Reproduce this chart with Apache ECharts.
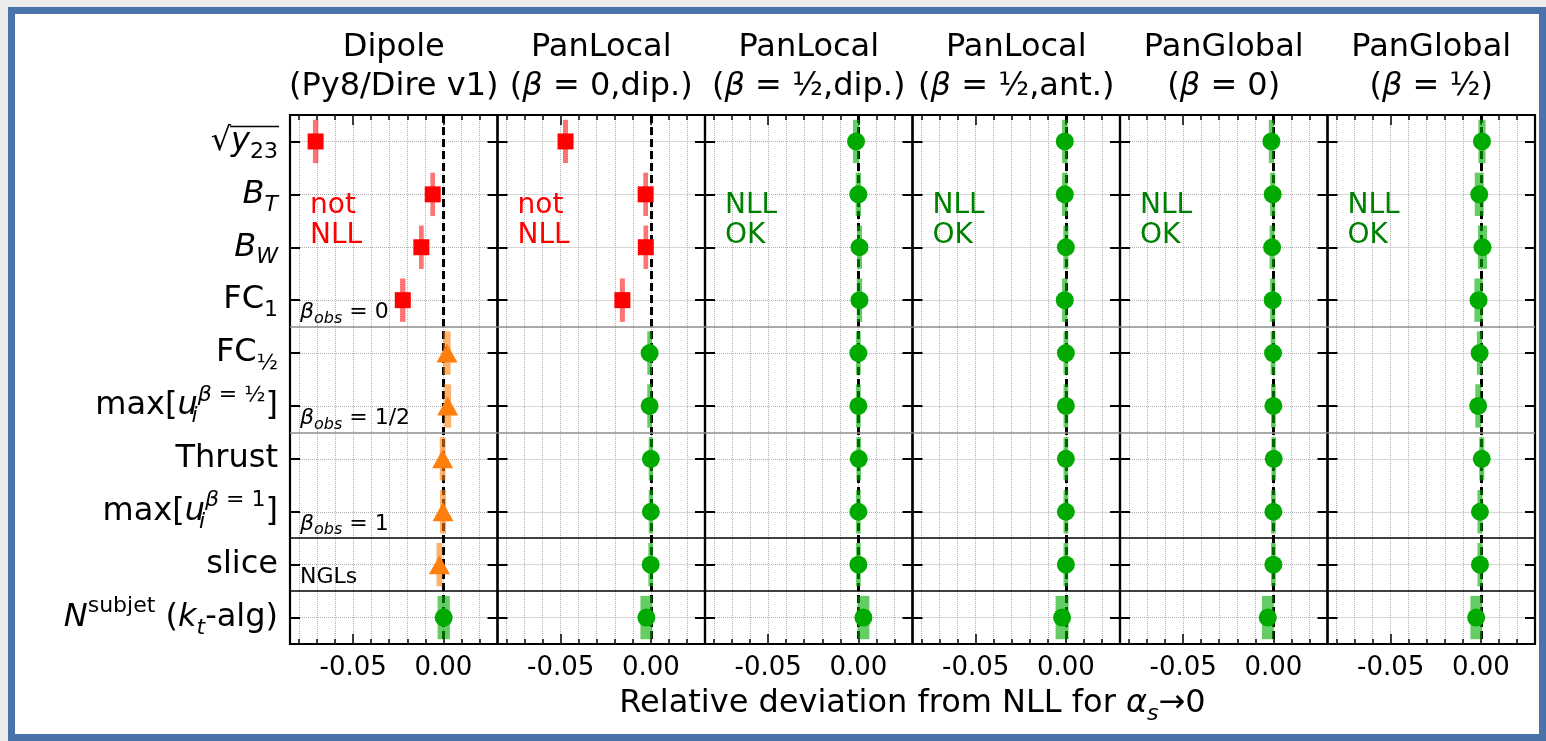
<!DOCTYPE html>
<html>
<head>
<meta charset="utf-8">
<script src="https://cdn.jsdelivr.net/npm/echarts@6/dist/echarts.min.js"></script>
<style>
html,body{margin:0;padding:0;background:#ebebeb;width:1546px;height:741px;overflow:hidden;}
#frame{position:absolute;left:8px;top:7px;width:1538px;height:734px;border:7px solid #4a74a8;box-sizing:border-box;background:#fff;}
#chart{position:absolute;left:0;top:0;width:1546px;height:741px;}
</style>
</head>
<body>
<div id="frame"></div>
<div id="chart"></div>
<script>
// ---------------- data ----------------
const observables = ['sqrt(y23)','B_T','B_W','FC_1','FC_1/2','max[u_i^(beta=1/2)]','Thrust','max[u_i^(beta=1)]','slice','N^subjet (kt-alg)'];
const observableLabels = [
  '{n|√}{i|y}{sub|23}',
  '{i|B}{isub|T}',
  '{i|B}{isub|W}',
  '{n|FC}{sub|1}',
  '{n|FC}{sub|½}',
  '{n|max[}{i|u}{isubz|i}{supi|β}{sup| = ½}{n|]}',
  '{n|Thrust}',
  '{n|max[}{i|u}{isubz|i}{supi|β}{sup| = 1}{n|]}',
  '{n|slice}',
  '{i|N}{sup|subjet}{n| (}{i|k}{isub|t}{n|-alg)}'
];
const panelTitleLine1 = ['Dipole','PanLocal','PanLocal','PanLocal','PanGlobal','PanGlobal'];
const panelTitleLine2 = ['{n|(Py8/Dire v1)}','{n|(}{i|β}{n| = 0,dip.)}','{n|(}{i|β}{n| = }{f|½}{n|,dip.)}','{n|(}{i|β}{n| = }{f|½}{n|,ant.)}','{n|(}{i|β}{n| = 0)}','{n|(}{i|β}{n| = }{f|½}{n|)}'];

const dipoleVals        = [-0.0708, -0.0059, -0.0122, -0.0225, 0.0020, 0.0024, -0.0004, -0.0002, -0.0022, 0.0002];
const dipoleErrs        = [0.0015, 0.0013, 0.0013, 0.0015, 0.0020, 0.0019, 0.0016, 0.0017, 0.0016, 0.0034];
const dipoleKinds       = ['red','red','red','red','orange','orange','orange','orange','orange','green'];

const panLocalB0DipVals  = [-0.0473, -0.0029, -0.0028, -0.0158, -0.0007, -0.0007, 0.0000, 0.0000, -0.0001, -0.0025];
const panLocalB0DipErrs  = [0.0014, 0.0013, 0.0013, 0.0014, 0.0013, 0.0013, 0.0012, 0.0012, 0.0013, 0.0033];
const panLocalB0DipKinds = ['red','red','red','red','green','green','green','green','green','green'];

const panLocalBhDipVals  = [-0.0013, 0.0000, 0.0006, 0.0006, 0.0000, 0.0000, 0.0002, 0.0000, 0.0000, 0.0028];
const panLocalBhDipErrs  = [0.0017, 0.0015, 0.0014, 0.0015, 0.0013, 0.0013, 0.0013, 0.0013, 0.0013, 0.0033];

const panLocalBhAntVals  = [-0.0006, -0.0006, 0.0000, -0.0006, 0.0000, 0.0000, 0.0000, 0.0000, 0.0000, -0.0021];
const panLocalBhAntErrs  = [0.0015, 0.0015, 0.0014, 0.0015, 0.0013, 0.0013, 0.0013, 0.0013, 0.0013, 0.0036];

const panGlobalB0Vals    = [-0.0011, -0.0004, -0.0007, -0.0004, -0.0002, 0.0000, 0.0002, 0.0000, 0.0000, -0.0031];
const panGlobalB0Errs    = [0.0014, 0.0014, 0.0014, 0.0014, 0.0013, 0.0013, 0.0013, 0.0013, 0.0013, 0.0032];

const panGlobalBhVals    = [0.0006, -0.0009, 0.0009, -0.0013, -0.0007, -0.0015, 0.0005, -0.0005, -0.0005, -0.0026];
const panGlobalBhErrs    = [0.0020, 0.0025, 0.0025, 0.0023, 0.0015, 0.0016, 0.0014, 0.0014, 0.0014, 0.0032];

const allGreenKinds = ['green','green','green','green','green','green','green','green','green','green'];

const panelVerdicts = ['not\nNLL','not\nNLL','NLL\nOK','NLL\nOK','NLL\nOK','NLL\nOK'];
const verdictOK     = [false,false,true,true,true,true];

const groupBoundaries = [3.5, 5.5, 7.5, 8.5];
const groupLabels = ['{gi|β}{gs|obs}{gn| = 0}','{gi|β}{gs|obs}{gn| = 1/2}','{gi|β}{gs|obs}{gn| = 1}','{gn|NGLs}'];
const groupLineColors = ['#8c8c8c','#8c8c8c','#000000','#000000'];

const xMin = -0.085, xMax = 0.03;
const minorTicks = [-0.08,-0.07,-0.06,-0.05,-0.04,-0.03,-0.02,-0.01,0,0.01,0.02];
const majorTicks = [-0.05, 0];
const rowIdx = [0,1,2,3,4,5,6,7,8,9];

const panels = [
  {vals: dipoleVals,        errs: dipoleErrs,        kinds: dipoleKinds},
  {vals: panLocalB0DipVals, errs: panLocalB0DipErrs, kinds: panLocalB0DipKinds},
  {vals: panLocalBhDipVals, errs: panLocalBhDipErrs, kinds: allGreenKinds},
  {vals: panLocalBhAntVals, errs: panLocalBhAntErrs, kinds: allGreenKinds},
  {vals: panGlobalB0Vals,   errs: panGlobalB0Errs,   kinds: allGreenKinds},
  {vals: panGlobalBhVals,   errs: panGlobalBhErrs,   kinds: allGreenKinds}
];

// ---------------- style ----------------
const FONT = 'DejaVu Sans';
const kindStyle = {
  red:    {color:'#ff0000', bar:'rgba(255,0,0,0.55)',   symbol:'rect',     size:16},
  orange: {color:'#ff7f0e', bar:'rgba(255,127,14,0.6)', symbol:'triangle', size:[21,19]},
  green:  {color:'#00aa00', bar:'rgba(0,170,0,0.6)',    symbol:'circle',   size:18}
};
const gridLeft0 = 290, gridTop = 115, gridW = 207.5, gridH = 529;
const barHalf = 0.41;

const labelRich = {
  n:    {fontFamily:FONT, fontSize:32, color:'#000'},
  i:    {fontFamily:FONT, fontSize:32, color:'#000', fontStyle:'italic'},
  sub:  {fontFamily:FONT, fontSize:22, color:'#000', padding:[21,0,0,0]},
  isub: {fontFamily:FONT, fontSize:22, color:'#000', fontStyle:'italic', padding:[21,0,0,0]},
  isubz:{fontFamily:FONT, fontSize:22, color:'#000', fontStyle:'italic', padding:[21,0,0,0], width:0},
  sup:  {fontFamily:FONT, fontSize:22, color:'#000', padding:[0,0,22,0]},
  supi: {fontFamily:FONT, fontSize:22, color:'#000', fontStyle:'italic', padding:[0,0,22,0]}
};

const grids = [], xAxes = [], yAxes = [], series = [];
const tickLine = {color:'#000', width:1.5};
const noLine = {show:false, onZero:false};

for (let p = 0; p < panels.length; p++) {
  grids.push({left: gridLeft0 + p*gridW, top: gridTop, width: gridW, height: gridH,
    show: true, borderColor:'#000', borderWidth:2.2, backgroundColor:'transparent'});
  const xb = {gridIndex:p, type:'value', min:xMin, max:xMax, axisLine:noLine,
    axisLabel:{show:false}, splitLine:{show:false}};
  xAxes.push(Object.assign({}, xb, {position:'bottom',
    axisTick:{show:true, inside:true, length:5, customValues:minorTicks, lineStyle:tickLine},
    axisLabel:{show:true, customValues:majorTicks, formatter:v => (Math.abs(v) < 1e-9 ? 0 : v).toFixed(2),
      fontFamily:FONT, fontSize:26, color:'#000', margin:11},
    splitLine:{show:true, lineStyle:{color:'#b0b0b0', type:'dotted', width:1}}}));
  xAxes.push(Object.assign({}, xb, {position:'bottom',
    axisTick:{show:true, inside:true, length:10, customValues:majorTicks, lineStyle:tickLine}}));
  xAxes.push(Object.assign({}, xb, {position:'top',
    axisTick:{show:true, inside:true, length:5, customValues:minorTicks, lineStyle:tickLine}}));
  xAxes.push(Object.assign({}, xb, {position:'top',
    axisTick:{show:true, inside:true, length:10, customValues:majorTicks, lineStyle:tickLine}}));

  yAxes.push({gridIndex:p, type:'value', min:-0.5, max:9.5, inverse:true, position:'left',
    axisLine:noLine,
    axisTick:{show:true, inside:true, length:10, customValues:rowIdx, lineStyle:{color:'#000', width:2}},
    axisLabel:{show:p===0, customValues:rowIdx, margin:12, formatter:v => observableLabels[Math.round(v)], rich:labelRich},
    splitLine:{show:true, lineStyle:{color:'#b0b0b0', type:'dotted', width:1}}});
  yAxes.push({gridIndex:p, type:'value', min:-0.5, max:9.5, inverse:true, position:'right',
    axisLine:noLine,
    axisTick:{show:true, inside:true, length:10, customValues:rowIdx, lineStyle:{color:'#000', width:2}},
    axisLabel:{show:false}, splitLine:{show:false}});

  const pd = panels[p];
  const barData = pd.vals.map((v, r) => [v, r, pd.errs[r], pd.kinds[r]]);
  const ptData = pd.vals.map((v, r) => {
    const ks = kindStyle[pd.kinds[r]];
    return {value:[v, r], symbol:ks.symbol, symbolSize:ks.size, itemStyle:{color:ks.color, opacity:1}};
  });

  // reference lines: zero line and group separators
  series.push({type:'line', xAxisIndex:p*4, yAxisIndex:p*2, data:[], silent:true, z:1,
    markLine:{silent:true, z:1, symbol:['none','none'], label:{show:false}, animation:false,
      data:[{xAxis:0, lineStyle:{color:'#000', width:3, type:[8,4], opacity:1}}].concat(
        groupBoundaries.map((b, k) => ({yAxis:b, lineStyle:{color:groupLineColors[k], width:1.5, type:'solid', opacity:1}})))}});

  series.push({type:'custom', xAxisIndex:p*4, yAxisIndex:p*2, z:2, silent:true,
    encode:{x:0, y:1},
    data: barData,
    renderItem:(params, api) => {
      const x = api.value(0), y = api.value(1), e = api.value(2);
      const kind = barData[params.dataIndex][3];
      const a = api.coord([x - e, y - barHalf]);
      const b = api.coord([x + e, y + barHalf]);
      return {type:'rect', shape:{x:Math.min(a[0],b[0]), y:Math.min(a[1],b[1]),
        width:Math.abs(b[0]-a[0]), height:Math.abs(b[1]-a[1])},
        style:{fill:kindStyle[kind].bar}};
    }});

  series.push({type:'scatter', xAxisIndex:p*4, yAxisIndex:p*2, z:3, silent:true,
    itemStyle:{opacity:1}, data:ptData});
}

const chart = echarts.init(document.getElementById('chart'), null, {renderer:'canvas'});
chart.setOption({
  backgroundColor:'transparent',
  animation:false,
  grid:grids, xAxis:xAxes, yAxis:yAxes, series:series
});

// ---------------- text annotations ----------------
const graphics = [];
const titleRich = {
  n:{fontFamily:FONT, fontSize:32, color:'#000'},
  i:{fontFamily:FONT, fontSize:32, color:'#000', fontStyle:'italic'},
  f:{fontFamily:FONT, fontSize:32, color:'#000'}
};
for (let p = 0; p < panels.length; p++) {
  const cx = gridLeft0 + p*gridW + gridW/2;
  graphics.push({type:'text', x:cx, y:67, silent:true, style:{
    text:'{n|' + panelTitleLine1[p] + '}\n' + panelTitleLine2[p], rich:titleRich,
    align:'center', verticalAlign:'middle', lineHeight:39}});
  const pos = chart.convertToPixel({gridIndex:p}, [-0.0739, 1.5]);
  graphics.push({type:'text', x:pos[0], y:pos[1], silent:true, style:{
    text:panelVerdicts[p], fontFamily:FONT, fontSize:28, lineHeight:30,
    fill: verdictOK[p] ? '#008000' : '#ff0000', align:'left', verticalAlign:'middle'}});
}
const groupRich = {
  gn:{fontFamily:FONT, fontSize:22, color:'#000'},
  gi:{fontFamily:FONT, fontSize:22, color:'#000', fontStyle:'italic'},
  gs:{fontFamily:FONT, fontSize:16, color:'#000', fontStyle:'italic', padding:[12,0,0,0]}
};
groupBoundaries.forEach((b, k) => {
  const pos = chart.convertToPixel({gridIndex:0}, [-0.0795, b]);
  graphics.push({type:'text', x:pos[0], y:pos[1] - 14, silent:true, style:{
    text:groupLabels[k], rich:groupRich, align:'left', verticalAlign:'middle'}});
});
// axis title
graphics.push({type:'text', x:(gridLeft0 + gridLeft0 + 6*gridW)/2, y:704, silent:true, style:{
  text:'{n|Relative deviation from NLL for }{i|α}{isub|s}{n|→0}', rich:labelRich,
  align:'center', verticalAlign:'middle'}});
// overline of the square root
(function(){
  const c = document.createElement('canvas').getContext('2d');
  c.font = 'italic 32px "DejaVu Sans"';
  const w1 = c.measureText('y').width;
  c.font = '22px "DejaVu Sans"';
  const w2 = c.measureText('23').width;
  const yRow = chart.convertToPixel({gridIndex:0}, [xMin, 0])[1];
  const xr = gridLeft0 - 12;
  graphics.push({type:'line', silent:true, shape:{x1:xr - w1 - w2 - 1, y1:yRow - 15, x2:xr + 1, y2:yRow - 15},
    style:{stroke:'#000', lineWidth:1.5}});
})();
chart.setOption({graphic:graphics});
</script>
</body>
</html>
